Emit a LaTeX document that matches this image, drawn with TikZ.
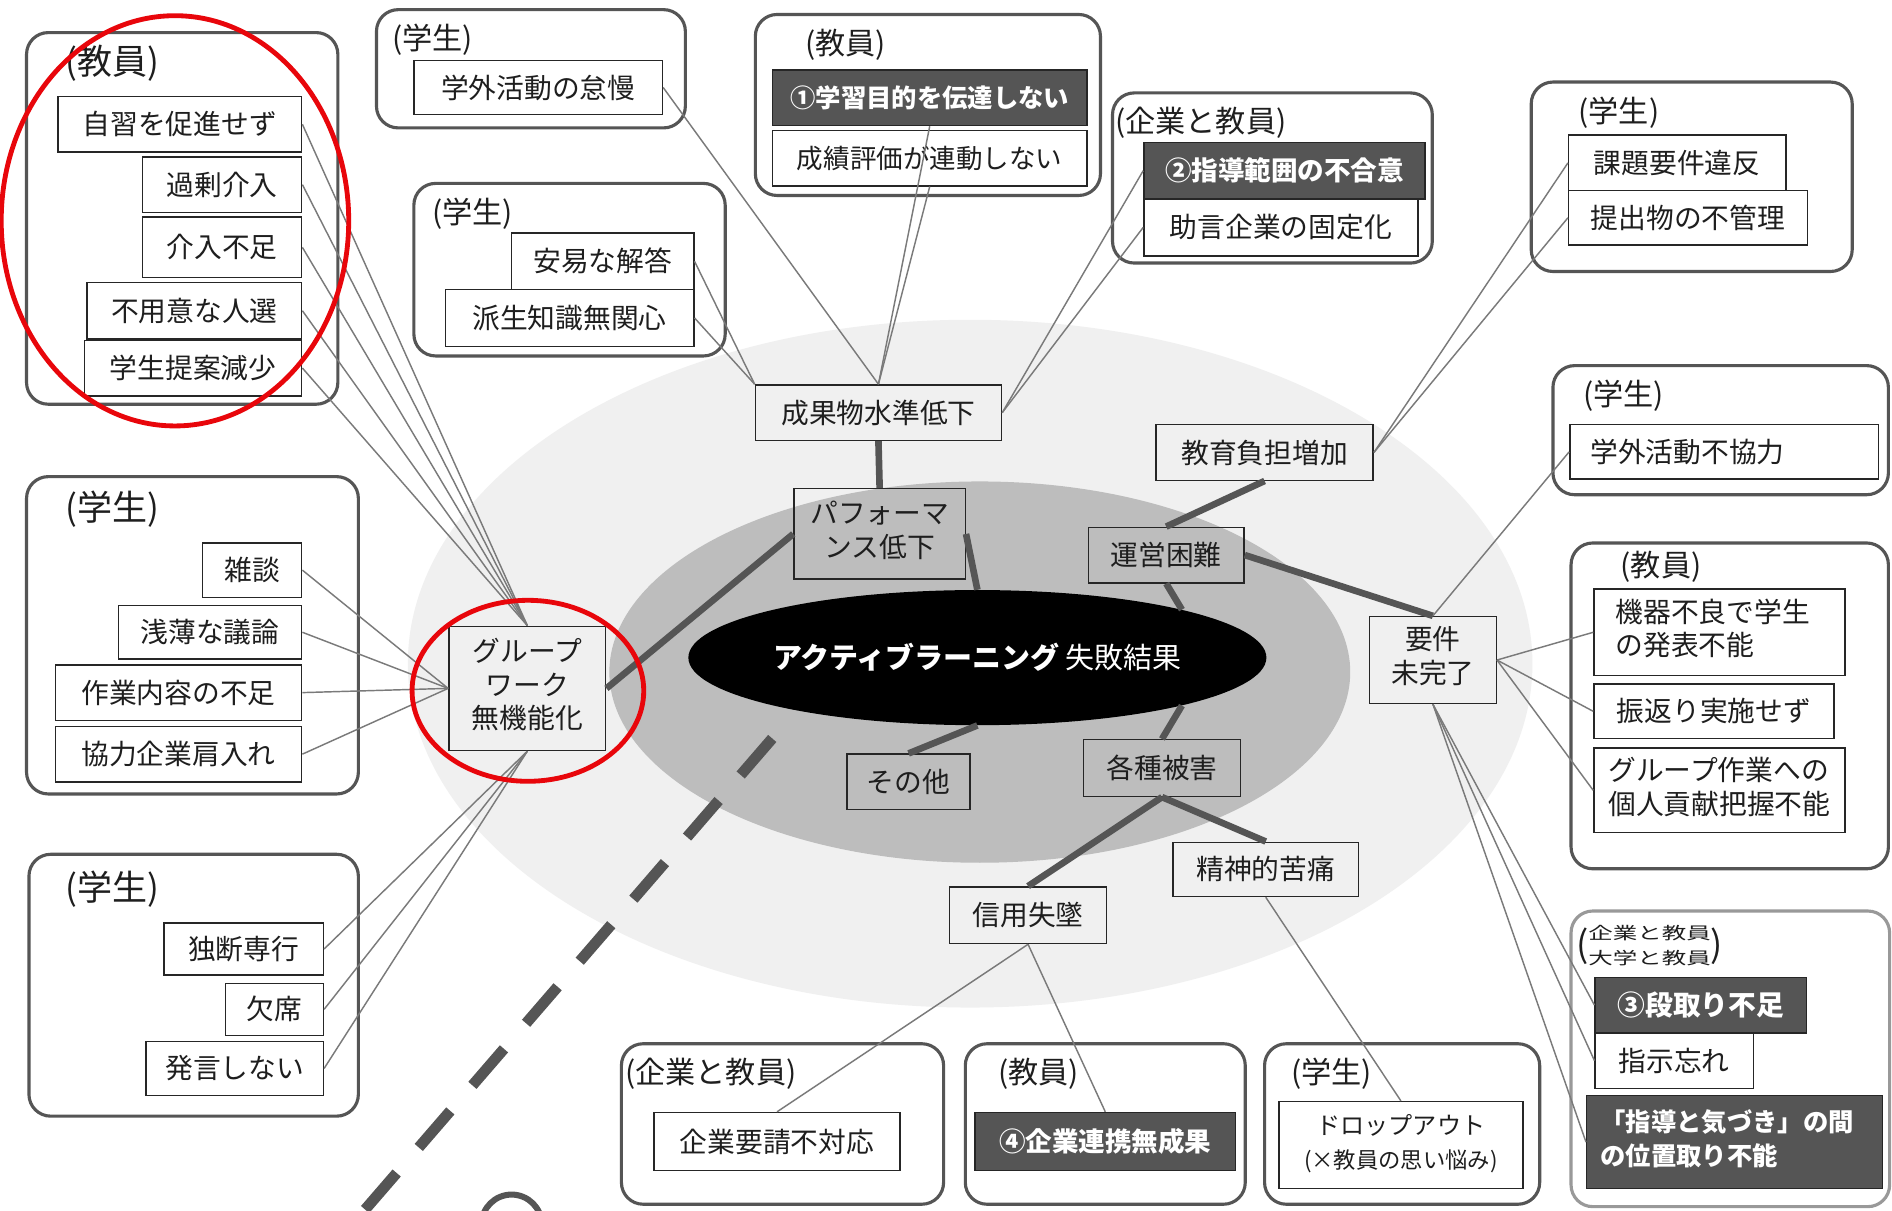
\documentclass[tikz,border=0pt]{standalone}
\usepackage{fontspec}
\setmainfont{Noto Sans CJK JP}
\usetikzlibrary{shapes.geometric}
\definecolor{lg}{HTML}{F0F0F0}
\definecolor{mg}{HTML}{BDBDBD}
\definecolor{dg}{HTML}{555555}
\definecolor{tx}{HTML}{1E1E1E}
\definecolor{lnc}{HTML}{7A7A7A}
\definecolor{redc}{HTML}{E8060B}
\newcommand{\mlc}[1]{\begin{tabular}{@{}c@{}}#1\end{tabular}}
\newcommand{\mll}[1]{\begin{tabular}{@{}l@{}}#1\end{tabular}}
% \nbx{style}{x1}{y1}{x2}{y2}{name}{text}
\newcommand{\nbx}[7]{\node[#1, minimum width={#4-#2}, minimum height={#5-#3}] (#6) at ({(#2+#4)/2},{(#3+#5)/2}) {#7};}
\tikzset{
  grp/.style={draw=dg, line width=2.6pt, rounded corners=18pt, inner sep=0pt, fill=white},
  grpl/.style={grp, draw=black!40},
  item/.style={draw=black!85, line width=1.2pt, fill=white, inner sep=0pt, text=tx, font=\fontsize{23}{28}\selectfont},
  ditem/.style={item, fill=dg, text=white, font=\bfseries\fontsize{22}{27}\selectfont},
  cnode/.style={draw=black!85, line width=1.2pt, inner sep=0pt, text=tx, font=\fontsize{23}{28}\selectfont},
  ttl/.style={anchor=west, inner sep=0pt, text=tx, font=\fontsize{25}{28}\selectfont},
  bttl/.style={ttl, font=\fontsize{29}{32}\selectfont},
  link/.style={draw=lnc, line width=1.2pt},
  tlink/.style={draw=dg, line width=5.5pt},
  redring/.style={draw=redc, line width=4pt},
}
\begin{document}
\begin{tikzpicture}[x=1pt, y=-1pt]
\useasboundingbox (0,0) rectangle (1568,1003);
\clip (0,0) rectangle (1568,1003);
\fill[white] (0,0) rectangle (1568,1003);
% background ellipses
\fill[lg] (804,550) ellipse [x radius=466pt, y radius=285pt];
\fill[mg] (812,557) ellipse [x radius=307pt, y radius=158pt];
% dashed line and partial circle
\coordinate (ds) at (640,612);
\coordinate (de) at (296,1010);
\draw[dg, line width=9pt, dash pattern=on 40pt off 28pt] (ds) -- (de);
\draw[dg, line width=5pt] (424,1015) circle [radius=25pt];
% core
\node[ellipse, fill=black, minimum width=392pt, minimum height=112pt, inner sep=0pt, text=white, font=\fontsize{24}{28}\selectfont] (core) at (810,545) {{\bfseries アクティブラーニング} 失敗結果};

% group boxes
\nbx{grp}{22}{27}{280}{335}{g1}{}
\nbx{grp}{312}{8}{568}{106}{g2}{}
\nbx{grp}{343}{152}{601}{295}{g3}{}
\nbx{grp}{626}{12}{912}{162}{g4}{}
\nbx{grp}{922}{77}{1187}{218}{g5}{}
\nbx{grp}{1269}{68}{1535}{225}{g6}{}
\nbx{grp}{1287}{303}{1565}{410}{g7}{}
\nbx{grp}{1302}{450}{1565}{720}{g8}{}
\nbx{grpl}{1302}{755}{1566}{1000}{g9}{}
\nbx{grp}{515}{865}{782}{998}{g10}{}
\nbx{grp}{800}{865}{1032}{998}{g11}{}
\nbx{grp}{1048}{865}{1276}{998}{g12}{}
\nbx{grp}{22}{395}{297}{658}{g13}{}
\nbx{grp}{24}{708}{297}{925}{g14}{}

% titles
\node[bttl] (t1) at (54,52) {(教員)};
\node[ttl] (t2) at (325,33) {(学生)};
\node[ttl] (t3) at (358,177) {(学生)};
\node[ttl] (t4) at (667,37) {(教員)};
\node[ttl] (t5) at (924,102) {(企業と教員)};
\node[ttl] (t6) at (1308,93) {(学生)};
\node[ttl] (t7) at (1312,328) {(学生)};
\node[ttl] (t8) at (1343,470) {(教員)};
\node[anchor=west, inner sep=0pt, text=tx, font=\fontsize{14}{21}\selectfont] (t9) at (1306,785) {{\fontsize{30}{30}\selectfont(}\raisebox{5pt}{\mll{\scalebox{1.45}[1]{企業と教員}\\\scalebox{1.45}[1]{大学と教員}}}{\fontsize{30}{30}\selectfont)}};
\node[ttl] (t10) at (518,890) {(企業と教員)};
\node[ttl] (t11) at (827,890) {(教員)};
\node[ttl] (t12) at (1070,890) {(学生)};
\node[bttl] (t13) at (54,422) {(学生)};
\node[bttl] (t14) at (54,737) {(学生)};

% items
\nbx{item}{48}{80}{250}{126}{a1}{自習を促進せず}
\nbx{item}{118}{130}{250}{176}{a2}{過剰介入}
\nbx{item}{118}{180}{250}{230}{a3}{介入不足}
\nbx{item}{72}{234}{250}{281}{a4}{不用意な人選}
\nbx{item}{70}{282}{250}{328}{a5}{学生提案減少}
\nbx{item}{343}{50}{549}{95}{gm}{学外活動の怠慢}
\nbx{item}{424}{193}{575}{240}{an1}{安易な解答}
\nbx{item}{369}{240}{575}{287}{an2}{派生知識無関心}
\nbx{ditem, font=\bfseries\fontsize{21}{26}\selectfont}{640}{58}{901}{104}{m1}{①学習目的を伝達しない}
\nbx{item, font=\fontsize{22}{27}\selectfont}{640}{108}{901}{154}{m2}{成績評価が連動しない}
\nbx{ditem}{948}{118}{1181}{165}{n1}{②指導範囲の不合意}
\nbx{item}{948}{165}{1175}{212}{n2}{助言企業の固定化}
\nbx{item}{1300}{112}{1480}{158}{k1}{課題要件違反}
\nbx{item}{1300}{158}{1498}{203}{k2}{提出物の不管理}
\nbx{item}{1301}{352}{1557}{397}{fk}{\makebox[222pt][l]{学外活動不協力}}
\nbx{item}{1321}{488}{1529}{560}{r1}{\makebox[172pt][l]{\mll{機器不良で学生\\の発表不能}}}
\nbx{item}{1321}{567}{1520}{612}{r2}{振返り実施せず}
\nbx{item}{1321}{620}{1529}{690}{r3}{\mll{グループ作業への\\個人貢献把握不能}}
\nbx{ditem, font=\bfseries\fontsize{23}{27}\selectfont}{1322}{810}{1497}{856}{s1}{③段取り不足}
\nbx{item}{1322}{856}{1453}{902}{s2}{指示忘れ}
\nbx{ditem, font=\bfseries\fontsize{21}{28}\selectfont}{1315}{908}{1560}{985}{s3}{\makebox[222pt][l]{\mll{「指導と気づき」の間\\の位置取り不能}}}
\nbx{item}{542}{922}{746}{970}{bb1}{企業要請不対応}
\nbx{ditem}{808}{922}{1024}{970}{bb2}{④企業連携無成果}
\nbx{item, font=\fontsize{20}{28}\selectfont}{1060}{913}{1262}{985}{bb3}{\mlc{ドロップアウト\\{\fontsize{18.5}{22}\selectfont (×教員の思い悩み)}}}
\nbx{item}{168}{450}{250}{495}{b1}{雑談}
\nbx{item}{98}{502}{250}{546}{b2}{浅薄な議論}
\nbx{item}{46}{551}{250}{597}{b3}{作業内容の不足}
\nbx{item}{46}{602}{250}{648}{b4}{協力企業肩入れ}
\nbx{item}{136}{765}{268}{808}{c1}{独断専行}
\nbx{item}{187}{815}{268}{858}{c2}{欠席}
\nbx{item}{121}{863}{268}{908}{c3}{発言しない}

% central nodes
\nbx{cnode}{626}{319}{830}{365}{sk}{成果物水準低下}
\nbx{cnode}{658}{405}{800}{480}{pf}{\mlc{パフォーマ\\ンス低下}}
\nbx{cnode}{958}{352}{1138}{398}{ed}{教育負担増加}
\nbx{cnode}{902}{437}{1031}{483}{un}{運営困難}
\nbx{cnode}{1135}{511}{1240}{583}{yk}{\mlc{要件\\未完了}}
\nbx{cnode}{372}{519}{502}{622}{gw}{\mlc{グループ\\ワーク\\無機能化}}
\nbx{cnode}{702}{625}{804}{671}{so}{その他}
\nbx{cnode}{898}{613}{1028}{660}{kh}{各種被害}
\nbx{cnode}{972}{698}{1126}{743}{sg}{精神的苦痛}
\nbx{cnode}{787}{735}{917}{782}{sy}{信用失墜}

% thick links
\draw[tlink] (sk.south) -- (pf.north);
\draw[tlink] (pf.east) -- (core.north);
\draw[tlink] (gw.east) -- (pf.west);
\draw[tlink] (ed.south) -- (un.north);
\draw[tlink] (un.south) -- (core.north east);
\draw[tlink] (un.east) -- (yk.north);
\draw[tlink] (core.south) -- (so.north);
\draw[tlink] (core.south east) -- (kh.north);
\draw[tlink] (kh.south) -- (sy.north);
\draw[tlink] (kh.south) -- (sg.north);

% thin links
\foreach \n in {a1,a2,a3,a4,a5} \draw[link] (\n.east) -- (gw.north);
\foreach \n in {b1,b2,b3,b4} \draw[link] (\n.east) -- (gw.west);
\foreach \n in {c1,c2,c3} \draw[link] (\n.east) -- (gw.south);
\draw[link] (gm.east) -- (sk.north);
\draw[link] (an1.east) -- (sk.north west);
\draw[link] (an2.east) -- (sk.north west);
\draw[link] (m1.south) -- (sk.north);
\draw[link] (m2.south) -- (sk.north);
\draw[link] (sk.east) -- (n1.west);
\draw[link] (sk.east) -- (n2.west);
\draw[link] (ed.east) -- (k1.west);
\draw[link] (ed.east) -- (k2.west);
\draw[link] (yk.north) -- (fk.west);
\foreach \n in {r1,r2,r3} \draw[link] (yk.east) -- (\n.west);
\foreach \n in {s1,s2,s3} \draw[link] (yk.south) -- (\n.west);
\draw[link] (sy.south) -- (bb1.north);
\draw[link] (sy.south) -- (bb2.north);
\draw[link] (sg.south) -- (bb3.north);

% red highlight rings
\draw[redring] (145,183) ellipse [x radius=144pt, y radius=170pt];
\draw[redring] (437.5,572.5) ellipse [x radius=96pt, y radius=75pt];
\end{tikzpicture}
\end{document}
